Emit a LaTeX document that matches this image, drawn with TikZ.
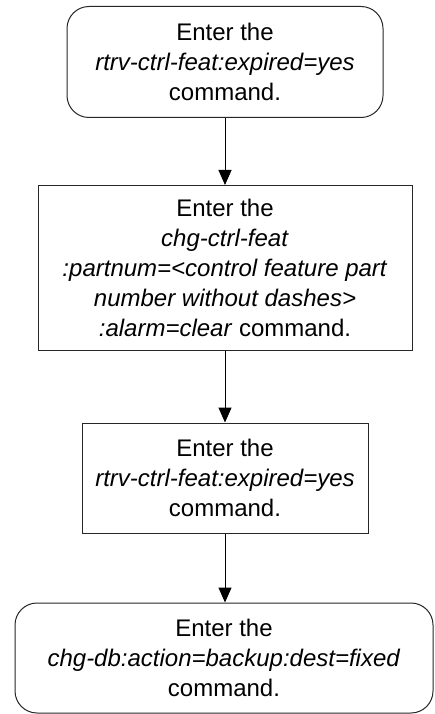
\documentclass[tikz,border=0pt]{standalone}
\usepackage{fontspec}
\setmainfont{Liberation Sans}
\usetikzlibrary{positioning, arrows.meta}

\begin{document}
\begin{tikzpicture}[x=1pt, y=-1pt,
    every node/.style={font=\fontsize{24}{30}\selectfont, align=center, inner sep=0pt},
    stepbox/.style={draw=black!85, line width=1pt},
    endbox/.style={draw=black!85, line width=1pt, rounded corners=22pt},
    flow/.style={draw=black, line width=1pt, -{Triangle[width=13pt,length=15pt]}}]

    \useasboundingbox (0,0) rectangle (434,714);

    % Start and end
    \node[endbox, minimum width=316pt, minimum height=111pt] (start) at (225,62)
        {Enter the\\ \textit{rtrv-ctrl-feat:expired=yes}\\ command.};
    \node[endbox, minimum width=418pt, minimum height=110pt] (backup) at (224,658)
        {Enter the\\ \textit{chg-db:action=backup:dest=fixed}\\ command.};

    % Steps
    \node[stepbox, minimum width=374pt, minimum height=165pt] (clear) at (225,268)
        {Enter the\\ \textit{chg-ctrl-feat}\\ \textit{:partnum=<control feature part}\\
         \textit{number without dashes>}\\ \textit{:alarm=clear} command.};
    \node[stepbox, minimum width=286pt, minimum height=110pt] (check) at (225,478)
        {Enter the\\ \textit{rtrv-ctrl-feat:expired=yes}\\ command.};

    % Flow
    \draw[flow] (start) -- (clear);
    \draw[flow] (clear) -- (check);
    \draw[flow] (check.south) -- (check.south |- backup.north);

\end{tikzpicture}
\end{document}
